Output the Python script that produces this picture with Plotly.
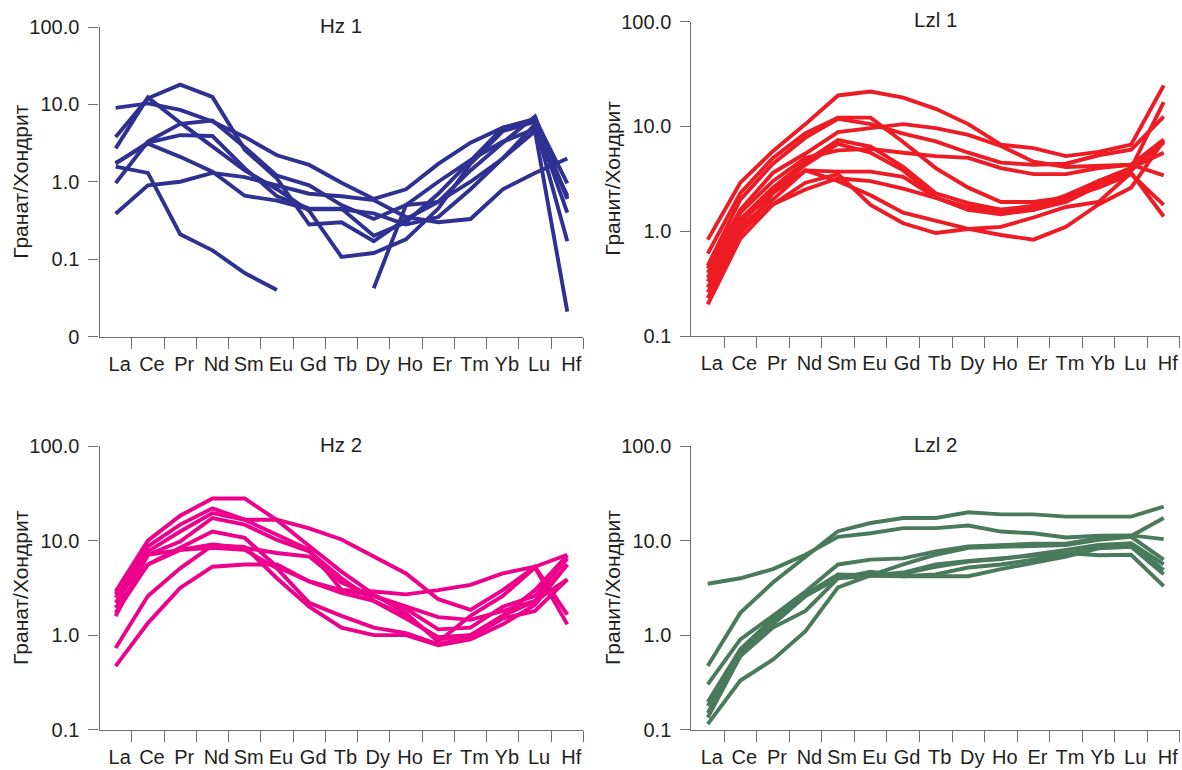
import plotly.graph_objects as go

elements = ["La", "Ce", "Pr", "Nd", "Sm", "Eu", "Gd", "Tb", "Dy", "Ho", "Er", "Tm", "Yb", "Lu", "Hf"]

# Hz 1 (garnet / chondrite)
hz1_1 = [9.0, 10.3, 8.5, 6.0, 3.8, 2.2, 1.65, 0.97, 0.6, 0.8, 1.7, 3.2, 5.0, 6.5, 0.95]
hz1_2 = [3.8, 12.0, 18.0, 12.5, 2.6, 1.1, 0.28, 0.3, 0.17, 0.33, 0.55, 1.4, 3.2, 7.0, 0.6]
hz1_3 = [2.7, 12.3, 5.8, 2.9, 1.4, 0.8, 0.42, 0.107, 0.12, 0.18, 0.45, 1.7, 4.5, 6.0, 0.4]
hz1_4 = [0.96, 3.3, 5.6, 6.2, 2.8, 1.2, 0.9, 0.5, 0.33, 0.5, 1.0, 1.9, 3.3, 4.8, 0.66]
hz1_5 = [1.75, 3.1, 2.1, 1.35, 0.66, 0.57, 0.44, 0.44, 0.39, 0.28, 0.35, 0.8, 2.0, 5.5, 0.17]
hz1_6 = [1.57, 1.3, 0.21, 0.13, 0.066, 0.04, None, None, None, None, None, None, None, None, None]
hz1_7 = [0.385, 0.9, 1.0, 1.3, 1.15, 0.9, 0.7, 0.65, 0.58, 0.35, 0.3, 0.33, 0.8, 1.3, 2.0]
hz1_8 = [None, None, None, None, None, None, None, None, 0.042, 0.5, 0.55, 1.0, 2.0, 4.5, 0.021]
hz1_9 = [1.72, 3.2, 4.0, 3.9, 1.5, 0.65, 0.45, 0.45, 0.2, 0.3, 0.7, 1.9, 5.0, 6.2, 0.62]

# Lzl 1 (granite / chondrite)
lzl1_1 = [0.83, 2.9, 5.8, 10.5, 19.7, 21.5, 18.8, 14.7, 10.5, 6.7, 6.2, 5.2, 5.7, 6.7, 24.5]
lzl1_2 = [0.61, 2.3, 5.0, 8.6, 12.1, 12.1, 7.1, 4.0, 2.6, 1.9, 1.9, 2.1, 3.0, 4.0, 17.0]
lzl1_3 = [0.47, 2.0, 4.4, 7.8, 11.8, 10.5, 8.5, 7.2, 5.6, 4.5, 4.3, 4.4, 5.3, 6.0, 12.4]
lzl1_4 = [0.44, 1.6, 3.6, 5.5, 8.8, 9.7, 10.5, 9.6, 8.3, 6.5, 4.6, 4.1, 4.2, 4.3, 7.5]
lzl1_5 = [0.40, 1.5, 3.0, 5.0, 5.9, 6.1, 5.6, 5.2, 5.0, 4.0, 3.5, 3.5, 4.0, 4.3, 3.4]
lzl1_6 = [0.36, 1.3, 2.6, 4.6, 7.4, 6.4, 4.1, 2.3, 1.85, 1.6, 1.6, 1.9, 2.7, 3.8, 7.0]
lzl1_7 = [0.33, 1.2, 2.4, 4.3, 6.8, 5.6, 3.8, 2.1, 1.6, 1.55, 1.7, 2.2, 3.0, 4.0, 5.6]
lzl1_8 = [0.29, 1.1, 2.0, 3.8, 3.7, 3.7, 3.3, 2.1, 1.6, 1.45, 1.6, 2.0, 2.8, 3.8, 7.2]
lzl1_9 = [0.26, 1.0, 1.8, 2.5, 3.2, 3.0, 2.55, 2.1, 1.7, 1.6, 1.75, 2.1, 2.6, 3.5, 1.78]
lzl1_10 = [0.23, 0.95, 2.3, 3.8, 3.0, 2.2, 1.5, 1.25, 1.05, 0.92, 0.83, 1.1, 1.8, 2.6, 7.3]
lzl1_11 = [0.20, 0.85, 1.8, 2.9, 3.5, 1.78, 1.19, 0.96, 1.05, 1.1, 1.35, 1.7, 1.9, 3.6, 1.38]

# Hz 2 (garnet / chondrite)
hz2_1 = [2.9, 10.0, 18.4, 28.0, 28.0, 16.5, 8.8, 4.7, 2.7, 1.7, 0.85, 1.6, 2.6, 5.2, 1.3]
hz2_2 = [2.7, 8.7, 14.8, 22.0, 16.7, 11.6, 8.0, 3.0, 2.6, 1.9, 1.15, 1.2, 2.0, 2.6, 6.5]
hz2_3 = [2.5, 7.7, 12.5, 19.6, 16.7, 16.7, 13.5, 10.3, 6.8, 4.5, 2.4, 1.85, 3.0, 5.3, 1.65]
hz2_4 = [2.2, 7.1, 9.8, 17.4, 14.8, 10.2, 7.7, 4.0, 2.3, 1.6, 0.9, 1.0, 1.6, 3.0, 7.0]
hz2_5 = [1.95, 5.6, 8.4, 12.5, 10.7, 5.3, 3.7, 3.0, 2.9, 2.7, 3.0, 3.4, 4.5, 5.3, 7.1]
hz2_6 = [1.72, 5.6, 8.0, 9.1, 8.4, 7.4, 6.8, 3.6, 2.6, 2.0, 1.55, 1.45, 1.8, 2.3, 5.6]
hz2_7 = [1.59, 7.1, 8.0, 8.4, 8.0, 5.1, 2.2, 1.6, 1.2, 1.05, 0.8, 0.95, 1.5, 1.8, 3.9]
hz2_8 = [0.73, 2.6, 5.1, 8.9, 8.6, 4.0, 2.0, 1.2, 1.0, 1.0, 0.78, 0.9, 1.3, 2.1, 5.6]
hz2_9 = [0.47, 1.34, 3.16, 5.3, 5.6, 5.6, 3.7, 2.8, 2.3, 1.5, 0.95, 1.0, 1.6, 2.3, 3.9]

# Lzl 2 (granite / chondrite)
lzl2_1 = [3.5, 4.0, 5.0, 7.1, 11.0, 12.0, 13.6, 13.6, 14.5, 12.5, 12.0, 10.8, 11.3, 11.4, 10.4]
lzl2_2 = [0.47, 1.72, 3.6, 6.8, 12.6, 15.4, 17.4, 17.4, 20.0, 19.0, 19.0, 18.0, 18.0, 18.0, 23.0]
lzl2_3 = [0.30, 0.9, 1.6, 2.9, 5.6, 6.3, 6.5, 7.7, 8.7, 9.0, 9.3, 9.3, 10.6, 11.2, 17.4]
lzl2_4 = [0.195, 0.71, 1.5, 2.7, 4.4, 4.3, 5.6, 7.1, 8.4, 8.6, 9.0, 9.0, 10.2, 11.0, 6.3]
lzl2_5 = [0.177, 0.65, 1.35, 2.6, 4.0, 4.2, 4.5, 5.3, 6.0, 6.4, 7.1, 8.0, 9.0, 9.4, 5.6]
lzl2_6 = [0.15, 0.6, 1.2, 1.8, 4.0, 4.7, 4.2, 4.4, 5.2, 5.6, 6.3, 7.2, 8.5, 9.0, 4.9]
lzl2_7 = [0.134, 0.6, 1.3, 2.6, 4.3, 4.2, 4.2, 4.2, 4.2, 5.0, 5.8, 6.8, 8.3, 8.6, 4.4]
lzl2_8 = [0.114, 0.33, 0.55, 1.1, 3.2, 4.3, 4.6, 5.6, 6.1, 6.5, 6.8, 7.4, 7.0, 7.1, 3.3]

panels = [
    dict(title="Hz 1", ytitle="Гранат/Хондрит", color="#2E3192",
         series=[hz1_1, hz1_2, hz1_3, hz1_4, hz1_5, hz1_6, hz1_7, hz1_8, hz1_9],
         x=[0.0842, 0.4936], y=[1 - 336.5 / 770, 1 - 27 / 770], title_x=21,
         yrange=[-2, 2], tickvals=[0.01, 0.1, 1, 10, 100],
         ticktext=["0", "0.1", "1.0", "10.0", "100.0"]),
    dict(title="Lzl 1", ytitle="Гранит/Хондрит", color="#ED1C24",
         series=[lzl1_1, lzl1_2, lzl1_3, lzl1_4, lzl1_5, lzl1_6, lzl1_7, lzl1_8,
                 lzl1_9, lzl1_10, lzl1_11],
         x=[0.5850, 0.9983], y=[1 - 336 / 770, 1 - 21.5 / 770], title_x=613,
         yrange=[-1, 2], tickvals=[0.1, 1, 10, 100],
         ticktext=["0.1", "1.0", "10.0", "100.0"]),
    dict(title="Hz 2", ytitle="Гранат/Хондрит", color="#EC008C",
         series=[hz2_1, hz2_2, hz2_3, hz2_4, hz2_5, hz2_6, hz2_7, hz2_8, hz2_9],
         x=[0.0842, 0.4936], y=[1 - 729.5 / 770, 1 - 446.3 / 770], title_x=21,
         yrange=[-1, 2], tickvals=[0.1, 1, 10, 100],
         ticktext=["0.1", "1.0", "10.0", "100.0"]),
    dict(title="Lzl 2", ytitle="Гранит/Хондрит", color="#4A7A5C",
         series=[lzl2_1, lzl2_2, lzl2_3, lzl2_4, lzl2_5, lzl2_6, lzl2_7, lzl2_8],
         x=[0.5850, 0.9983], y=[1 - 729.5 / 770, 1 - 446.3 / 770], title_x=613,
         yrange=[-1, 2], tickvals=[0.1, 1, 10, 100],
         ticktext=["0.1", "1.0", "10.0", "100.0"]),
]

FONT = "Liberation Sans, Arial, sans-serif"
TEXT = "#231F20"
AXIS_GREY = "#6D6E71"
W, H = 1182, 770

fig = go.Figure()
layout = dict(
    width=W, height=H,
    margin=dict(l=0, r=0, t=0, b=0, autoexpand=False),
    paper_bgcolor="white", plot_bgcolor="white",
    showlegend=False,
    font=dict(family=FONT, color=TEXT, size=20),
    annotations=[],
)

positions = list(range(len(elements)))

for i, p in enumerate(panels, start=1):
    xa = "x" if i == 1 else f"x{i}"
    ya = "y" if i == 1 else f"y{i}"
    for s in p["series"]:
        fig.add_trace(go.Scatter(
            x=positions, y=s, mode="lines", xaxis=xa, yaxis=ya,
            line=dict(color=p["color"], width=3.9),
            connectgaps=False, hoverinfo="skip",
        ))
    layout[f"xaxis{'' if i == 1 else i}"] = dict(
        domain=p["x"], anchor=ya, range=[-0.5, 14.5], automargin=False,
        tickmode="array", tickvals=positions, ticktext=elements,
        ticks="", showgrid=False, zeroline=False,
        showline=True, linecolor=AXIS_GREY, linewidth=1.3,
        tickfont=dict(size=20, family=FONT, color=TEXT),
        ticklabelstandoff=9, ticklabelshift=4,
        minor=dict(tickmode="array", tickvals=[k + 0.5 for k in positions],
                   ticks="outside", ticklen=11, tickwidth=1.3,
                   tickcolor=AXIS_GREY, showgrid=False),
    )
    layout[f"yaxis{'' if i == 1 else i}"] = dict(
        domain=p["y"], anchor=xa, type="log", range=p["yrange"], automargin=False,
        tickmode="array", tickvals=p["tickvals"], ticktext=p["ticktext"],
        ticks="outside", ticklen=10, tickwidth=1.3, tickcolor=AXIS_GREY,
        showgrid=False, zeroline=False,
        showline=True, linecolor=AXIS_GREY, linewidth=1.3,
        tickfont=dict(size=20, family=FONT, color=TEXT),
        ticklabelstandoff=5,
    )
    # panel title above the plot area
    layout["annotations"].append(dict(
        text=p["title"], xref="paper", yref="paper",
        x=(p["x"][0] + p["x"][1]) / 2, y=p["y"][1] + 0.002,
        xanchor="center", yanchor="middle", showarrow=False,
        font=dict(size=20.5, family=FONT, color=TEXT),
    ))
    # vertical axis caption
    layout["annotations"].append(dict(
        text=p["ytitle"], xref="paper", yref="paper", textangle=-90,
        x=p["title_x"] / W, y=(p["y"][0] + p["y"][1]) / 2,
        xanchor="center", yanchor="middle", showarrow=False,
        font=dict(size=21, family=FONT, color=TEXT),
    ))

fig.update_layout(**layout)
fig.write_html("out.html")
